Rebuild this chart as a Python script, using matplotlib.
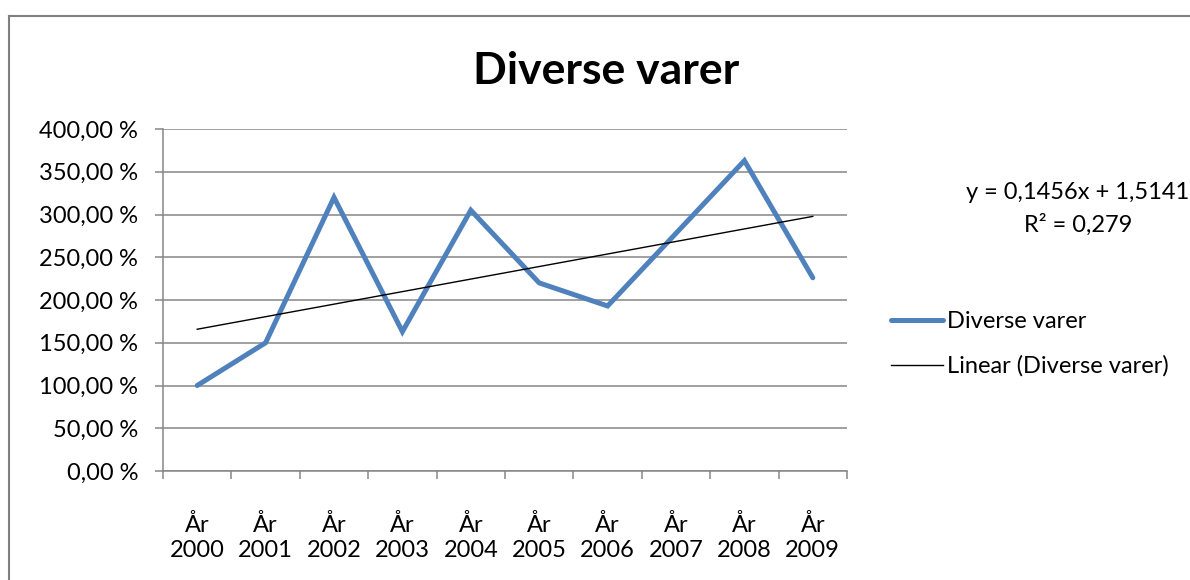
import numpy as np
import matplotlib
matplotlib.use("Agg")
import matplotlib.pyplot as plt
from matplotlib.lines import Line2D

plt.rcParams['font.family'] = ['Lato', 'DejaVu Sans']

years = ['År\n2000', 'År\n2001', 'År\n2002', 'År\n2003', 'År\n2004',
         'År\n2005', 'År\n2006', 'År\n2007', 'År\n2008', 'År\n2009']
values = [100, 150, 320, 163, 305, 220, 193, 278, 363, 226]
y_ticks = [0, 50, 100, 150, 200, 250, 300, 350, 400]
series_name = 'Diverse varer'
trend_label = 'Linear (Diverse varer)'
equation = 'y = 0,1456x + 1,5141\nR² = 0,279'

fs = 17

fig = plt.figure(figsize=(11.9, 5.8), dpi=100)
ax = fig.add_axes([163/1190, 1 - 471/580, (847 - 163)/1190, (471 - 129)/580])

x = np.arange(len(values))
grid_c = '#868686'

line_main, = ax.plot(x, values, color='#4F81BD', lw=3.6, solid_joinstyle='miter',
                     solid_capstyle='round', label=series_name, zorder=3)
k, m = np.polyfit(x, values, 1)
line_trend, = ax.plot(x, k * x + m, color='black', lw=1.0, label=trend_label, zorder=4)

ax.set_xlim(-0.5, len(values) - 0.5)
ax.set_ylim(0, 400)
ax.set_yticks(y_ticks)
ax.set_yticklabels([f'{v:.2f}'.replace('.', ',') + ' %' for v in y_ticks])
ax.yaxis.grid(True, color=grid_c, lw=1.1)
ax.set_axisbelow(True)

ax.set_xticks(np.arange(-0.5, len(values), 1.0))
ax.set_xticklabels([])
ax.set_xticks(x, minor=True)
ax.set_xticklabels(years, minor=True, fontsize=fs, linespacing=1.22)
ax.tick_params(axis='x', which='major', direction='out', length=6, color=grid_c, width=1.1)
ax.tick_params(axis='x', which='minor', length=0, pad=31)
ax.tick_params(axis='y', direction='out', length=6, color=grid_c, width=1.1,
               labelsize=fs, pad=12)

for s in ['top', 'right']:
    ax.spines[s].set_visible(False)
for s in ['left', 'bottom']:
    ax.spines[s].set_color(grid_c)
    ax.spines[s].set_linewidth(1.1)

fig.text(606/1190, 1 - 71/580, series_name, ha='center', va='center',
         fontsize=32, fontweight='bold')
fig.text(1078/1190, 1 - 209/580, equation, ha='center', va='center',
         fontsize=fs, linespacing=1.6)

fig.legend(handles=[line_main, line_trend], loc='center left',
           bbox_to_anchor=(870/1190, 1 - 344/580), frameon=False,
           fontsize=fs, handlelength=2.2, handletextpad=0.15, labelspacing=1.0)

# chart frame
fig.add_artist(Line2D([8.5/1190, 8.5/1190], [0, 1 - 15.5/580], color='#808080', lw=1.5))
fig.add_artist(Line2D([8.5/1190, 1], [1 - 15.5/580, 1 - 15.5/580], color='#808080', lw=1.5))

fig.savefig('out.png', dpi=100, facecolor='white')
